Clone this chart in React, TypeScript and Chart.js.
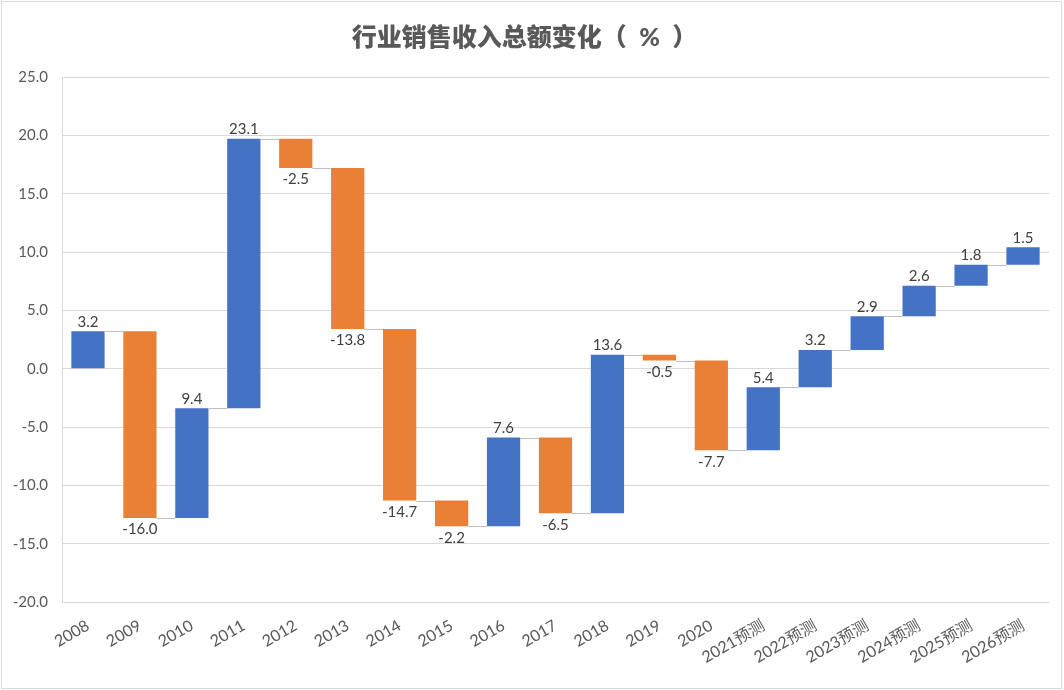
import React, { useEffect, useRef } from "react";
import { Chart, registerables } from "chart.js";

Chart.register(...registerables);

const categories = [
  "2008", "2009", "2010", "2011", "2012", "2013", "2014", "2015", "2016", "2017",
  "2018", "2019", "2020", "2021预测", "2022预测", "2023预测", "2024预测", "2025预测", "2026预测",
];
const changes = [3.2, -16.0, 9.4, 23.1, -2.5, -13.8, -14.7, -2.2, 7.6, -6.5, 13.6, -0.5, -7.7, 5.4, 3.2, 2.9, 2.6, 1.8, 1.5];
const yTicks = [-20, -15, -10, -5, 0, 5, 10, 15, 20, 25];
const titleText = "行业销售收入总额变化（\u2002%\u2002）";

const BLUE = "#4472C4";
const ORANGE = "#E98035";
const FONT = "Lato, 'Noto Sans CJK SC', sans-serif";

export default function App() {
  const ref = useRef<HTMLCanvasElement | null>(null);

  useEffect(() => {
    const starts: number[] = [];
    const ends: number[] = [];
    let acc = 0;
    for (const c of changes) {
      starts.push(acc);
      acc = Math.round((acc + c) * 10) / 10;
      ends.push(acc);
    }
    const floating = changes.map((_, i) => [starts[i], ends[i]]);
    const colors = changes.map((c) => (c >= 0 ? BLUE : ORANGE));

    const frame = {
      id: "frame",
      beforeDraw(chart: any) {
        const ctx = chart.ctx;
        ctx.save();
        ctx.fillStyle = "#ffffff";
        ctx.fillRect(0, 0, chart.width, chart.height);
        ctx.strokeStyle = "#D9D9D9";
        ctx.lineWidth = 1;
        ctx.strokeRect(1.5, 1.5, chart.width - 4, chart.height - 3);
        ctx.restore();
      },
    };

    const connectors = {
      id: "connectors",
      afterDatasetsDraw(chart: any) {
        const ctx = chart.ctx;
        const meta = chart.getDatasetMeta(0);
        const yScale = chart.scales.y;
        ctx.save();
        ctx.strokeStyle = "#BFBFBF";
        ctx.lineWidth = 1;
        for (let i = 0; i < meta.data.length - 1; i++) {
          const a = meta.data[i] as any;
          const b = meta.data[i + 1] as any;
          const y = Math.round(yScale.getPixelForValue(ends[i])) + 0.5;
          ctx.beginPath();
          ctx.moveTo(a.x + a.width / 2, y);
          ctx.lineTo(b.x - b.width / 2, y);
          ctx.stroke();
        }
        ctx.restore();
      },
    };

    const labels = {
      id: "valueLabels",
      afterDatasetsDraw(chart: any) {
        const ctx = chart.ctx;
        const meta = chart.getDatasetMeta(0);
        ctx.save();
        ctx.font = `15px ${FONT}`;
        ctx.fillStyle = "#404040";
        ctx.textAlign = "center";
        meta.data.forEach((el: any, i: number) => {
          const top = Math.min(el.y, el.base);
          const bottom = Math.max(el.y, el.base);
          const txt = changes[i].toFixed(1);
          if (changes[i] >= 0) {
            ctx.textBaseline = "bottom";
            ctx.fillText(txt, el.x, top - 2);
          } else {
            ctx.textBaseline = "top";
            ctx.fillText(txt, el.x, bottom + 4);
          }
        });
        ctx.restore();
      },
    };

    const chart = new Chart(ref.current as HTMLCanvasElement, {
      type: "bar",
      data: {
        labels: categories,
        datasets: [
          {
            data: floating as any,
            backgroundColor: colors,
            borderWidth: 0,
            barPercentage: 0.64,
            categoryPercentage: 1,
          },
        ],
      },
      options: {
        responsive: false,
        animation: false,
        layout: { padding: { left: 0, right: 15, top: 0, bottom: 0 } },
        plugins: {
          legend: { display: false },
          tooltip: { enabled: false },
          title: {
            display: true,
            text: titleText,
            color: "#595959",
            font: { family: FONT, size: 25, weight: 900 },
            padding: { top: 23, bottom: 24 },
          },
        },
        scales: {
          x: {
            grid: { display: false, drawTicks: false },
            border: { display: false },
            ticks: {
              color: "#595959",
              font: { family: FONT, size: 16 },
              minRotation: 30,
              maxRotation: 30,
              autoSkip: false,
              padding: 14,
            },
            afterFit(scale: any) {
              scale.height = 88;
            },
          },
          y: {
            min: -20,
            max: 25,
            afterBuildTicks(scale: any) {
              scale.ticks = yTicks.map((v) => ({ value: v }));
            },
            grid: { color: "#D9D9D9", drawTicks: false, lineWidth: 1 },
            border: { display: true, color: "#D9D9D9" },
            ticks: {
              color: "#595959",
              font: { family: FONT, size: 15 },
              padding: 14,
              callback: (v: any) => Number(v).toFixed(1),
            },
            afterFit(scale: any) {
              scale.width = 62;
            },
          },
        },
      },
      plugins: [frame, connectors, labels],
    });

    return () => chart.destroy();
  }, []);

  return (
    <div style={{ position: "absolute", left: 0, top: 0, width: 1064, height: 690 }}>
      <canvas ref={ref} width={1064} height={690} style={{ display: "block" }} />
    </div>
  );
}
